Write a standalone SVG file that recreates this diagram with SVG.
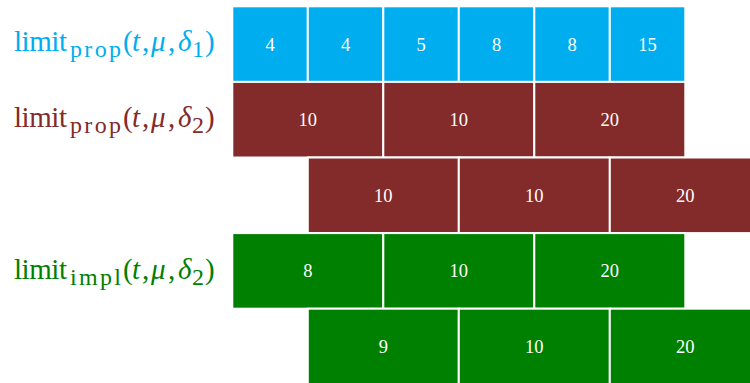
<svg xmlns="http://www.w3.org/2000/svg" width="750" height="383" viewBox="0 0 750 383">
  <style>
    .cell { stroke: #ffffff; stroke-width: 2; }
    .blue { fill: #00aeef; }
    .red { fill: #832a2a; }
    .green { fill: #008000; }
    .num { font-family: "Liberation Serif", "DejaVu Serif", serif; font-size: 18.5px; fill: #ffffff; text-anchor: middle; }
    .lbl { font-family: "Liberation Serif", "DejaVu Serif", serif; font-size: 29px; }
    .sub { font-size: 24px; }
    .it { font-style: italic; }
  </style>
  <rect width="750" height="383" fill="#ffffff"/>

  <!-- row labels, each glyph run placed explicitly -->
  <g id="label-prop-d1" fill="#00aeef">
    <text class="lbl" y="51"><tspan x="14" textLength="53" lengthAdjust="spacing">limit</tspan><tspan class="sub" x="70" dy="6" textLength="51" lengthAdjust="spacing">prop</tspan><tspan x="123" dy="-6">(</tspan><tspan class="it" x="132">t</tspan><tspan x="142">,</tspan><tspan class="it" x="151">μ</tspan><tspan x="168">,</tspan><tspan class="it" x="178">δ</tspan><tspan class="sub" x="192" dy="6">1</tspan><tspan x="205" dy="-6">)</tspan></text>
  </g>
  <g id="label-prop-d2" fill="#832a2a">
    <text class="lbl" y="127"><tspan x="14" textLength="53" lengthAdjust="spacing">limit</tspan><tspan class="sub" x="70" dy="6" textLength="51" lengthAdjust="spacing">prop</tspan><tspan x="123" dy="-6">(</tspan><tspan class="it" x="132">t</tspan><tspan x="142">,</tspan><tspan class="it" x="151">μ</tspan><tspan x="168">,</tspan><tspan class="it" x="178">δ</tspan><tspan class="sub" x="192" dy="6">2</tspan><tspan x="205" dy="-6">)</tspan></text>
  </g>
  <g id="label-impl-d2" fill="#008000">
    <text class="lbl" y="279"><tspan x="14" textLength="53" lengthAdjust="spacing">limit</tspan><tspan class="sub" x="70" dy="6" textLength="51" lengthAdjust="spacing">impl</tspan><tspan x="123" dy="-6">(</tspan><tspan class="it" x="132">t</tspan><tspan x="142">,</tspan><tspan class="it" x="151">μ</tspan><tspan x="168">,</tspan><tspan class="it" x="178">δ</tspan><tspan class="sub" x="192" dy="6">2</tspan><tspan x="205" dy="-6">)</tspan></text>
  </g>

  <!-- row 1: limit_prop(t, mu, delta_1) -->
  <g id="row1">
    <g id="r1c1"><rect class="cell blue" x="232.3" y="6.3" width="75.5" height="75.6"/><text class="num" x="270" y="50.5">4</text></g>
    <g id="r1c2"><rect class="cell blue" x="307.8" y="6.3" width="75.5" height="75.6"/><text class="num" x="345.5" y="50.5">4</text></g>
    <g id="r1c3"><rect class="cell blue" x="383.3" y="6.3" width="75.5" height="75.6"/><text class="num" x="421" y="50.5">5</text></g>
    <g id="r1c4"><rect class="cell blue" x="458.8" y="6.3" width="75.5" height="75.6"/><text class="num" x="496.5" y="50.5">8</text></g>
    <g id="r1c5"><rect class="cell blue" x="534.3" y="6.3" width="75.5" height="75.6"/><text class="num" x="572" y="50.5">8</text></g>
    <g id="r1c6"><rect class="cell blue" x="609.8" y="6.3" width="75.5" height="75.6"/><text class="num" x="647.5" y="50.5">15</text></g>
  </g>

  <!-- row 2: limit_prop(t, mu, delta_2) -->
  <g id="row2">
    <g id="r2c1"><rect class="cell red" x="232.3" y="81.9" width="151" height="75.6"/><text class="num" x="307.8" y="126">10</text></g>
    <g id="r2c2"><rect class="cell red" x="383.3" y="81.9" width="151" height="75.6"/><text class="num" x="458.8" y="126">10</text></g>
    <g id="r2c3"><rect class="cell red" x="534.3" y="81.9" width="151" height="75.6"/><text class="num" x="609.8" y="126">20</text></g>
  </g>

  <!-- row 3: shifted by one unit -->
  <g id="row3">
    <g id="r3c1"><rect class="cell red" x="307.8" y="157.5" width="151" height="75.6"/><text class="num" x="383.3" y="201.5">10</text></g>
    <g id="r3c2"><rect class="cell red" x="458.8" y="157.5" width="151" height="75.6"/><text class="num" x="534.3" y="201.5">10</text></g>
    <g id="r3c3"><rect class="cell red" x="609.8" y="157.5" width="151" height="75.6"/><text class="num" x="685.3" y="201.5">20</text></g>
  </g>

  <!-- row 4: limit_impl(t, mu, delta_2) -->
  <g id="row4">
    <g id="r4c1"><rect class="cell green" x="232.3" y="233.1" width="151" height="75.6"/><text class="num" x="307.8" y="277">8</text></g>
    <g id="r4c2"><rect class="cell green" x="383.3" y="233.1" width="151" height="75.6"/><text class="num" x="458.8" y="277">10</text></g>
    <g id="r4c3"><rect class="cell green" x="534.3" y="233.1" width="151" height="75.6"/><text class="num" x="609.8" y="277">20</text></g>
  </g>

  <!-- row 5: shifted by one unit -->
  <g id="row5">
    <g id="r5c1"><rect class="cell green" x="307.8" y="308.7" width="151" height="75.6"/><text class="num" x="383.3" y="352.5">9</text></g>
    <g id="r5c2"><rect class="cell green" x="458.8" y="308.7" width="151" height="75.6"/><text class="num" x="534.3" y="352.5">10</text></g>
    <g id="r5c3"><rect class="cell green" x="609.8" y="308.7" width="151" height="75.6"/><text class="num" x="685.3" y="352.5">20</text></g>
  </g>

  <!-- connectors: none drawn -->
  <g id="connectors"/>
</svg>
